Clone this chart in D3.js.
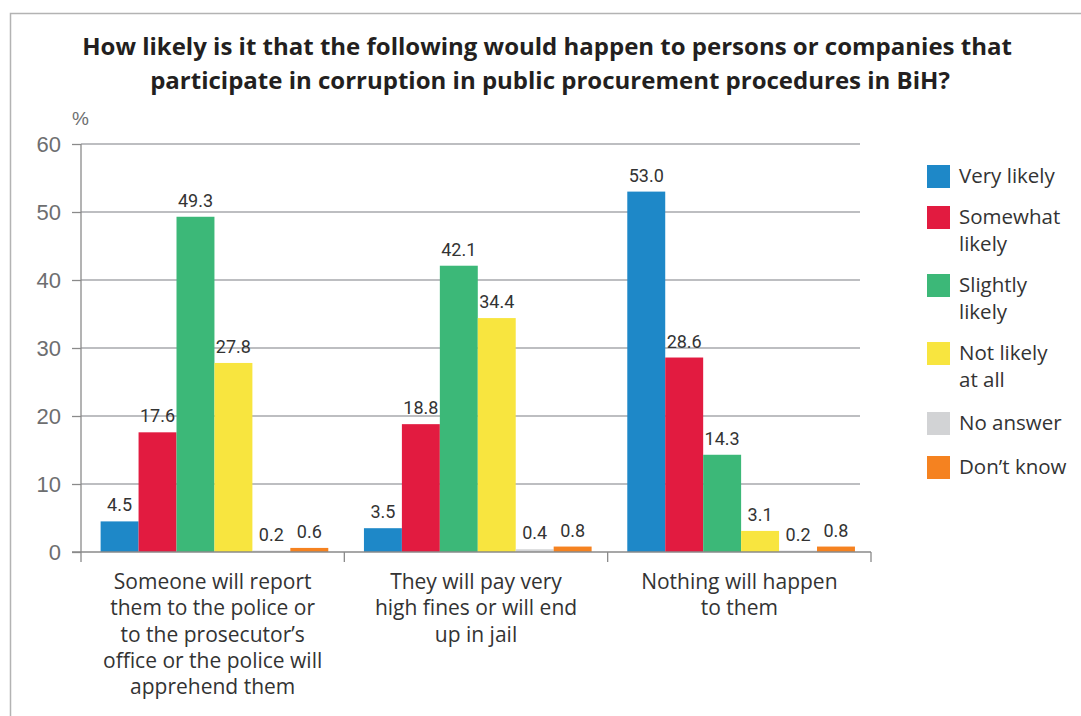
<!DOCTYPE html>
<html>
<head>
<meta charset="utf-8">
<script src="https://cdn.jsdelivr.net/npm/d3@7/dist/d3.min.js"></script>
<style>
  html, body { margin: 0; padding: 0; background: #fff; }
  svg { display: block; }
</style>
</head>
<body>
<svg id="chart" width="1081" height="716"></svg>
<script>
// Survey outcomes: perceived likelihood of consequences for corruption in procurement
const categories = [
  ["Someone will report", "them to the police or", "to the prosecutor’s", "office or the police will", "apprehend them"],
  ["They will pay very", "high fines or will end", "up in jail"],
  ["Nothing will happen", "to them"]
];
const seriesNames = ["Very likely", "Somewhat likely", "Slightly likely", "Not likely at all", "No answer", "Don’t know"];
const legendLines = [["Very likely"], ["Somewhat", "likely"], ["Slightly", "likely"], ["Not likely", "at all"], ["No answer"], ["Don’t know"]];
const seriesColors = ["#1e88c8", "#e21b40", "#3cb878", "#f8e53f", "#d2d3d5", "#f58220"];
const veryLikely      = [4.5, 3.5, 53.0];
const somewhatLikely  = [17.6, 18.8, 28.6];
const slightlyLikely  = [49.3, 42.1, 14.3];
const notLikelyAtAll  = [27.8, 34.4, 3.1];
const noAnswer        = [0.2, 0.4, 0.2];
const dontKnow        = [0.6, 0.8, 0.8];
const yTicks = [0, 10, 20, 30, 40, 50, 60];

const seriesValues = [veryLikely, somewhatLikely, slightlyLikely, notLikelyAtAll, noAnswer, dontKnow];

const svg = d3.select("#chart");
const textFont = "'Open Sans', sans-serif";
const numFont = "Roboto, sans-serif";
const tickFont = "'Liberation Sans', Arial, sans-serif";

// outer frame
svg.append("path")
  .attr("d", "M10.5,716 V13.5 H1081")
  .attr("fill", "none").attr("stroke", "#b3b3b3").attr("stroke-width", 1.5);

// title
const title = svg.append("text")
  .attr("text-anchor", "middle")
  .attr("font-family", textFont)
  .attr("font-weight", 700)
  .attr("font-size", 24)
  .attr("fill", "#231f20");
title.append("tspan").attr("x", 547).attr("y", 55).text("How likely is it that the following would happen to persons or companies that");
title.append("tspan").attr("x", 550).attr("y", 89).text("participate in corruption in public procurement procedures in BiH?");

const x0 = 81, x1 = 871, yTop = 144, yZero = 552;

const xBand = d3.scaleBand().domain(d3.range(categories.length)).range([x0, x1]).padding(0);
const xInner = d3.scaleBand().domain(d3.range(seriesNames.length))
  .range([0, xBand.bandwidth()]).paddingOuter(0.47).paddingInner(0).align(0.55);
const y = d3.scaleLinear().domain([0, 60]).range([yZero, yTop]);

// y ticks
const yAxis = d3.axisLeft(y).tickValues(yTicks).tickSize(9).tickPadding(11).tickFormat(d3.format("d"));
const gy = svg.append("g").attr("transform", `translate(${x0},0)`).call(yAxis);
gy.select(".domain").remove();
gy.selectAll(".tick line").attr("stroke", "#8a8a8a").attr("stroke-width", 1.3);
gy.selectAll(".tick text")
  .attr("font-family", tickFont).attr("font-size", 22).attr("fill", "#6d6e70").attr("dy", "0.36em");

// horizontal gridlines
svg.append("g").selectAll("line")
  .data(yTicks.filter(d => d > 0))
  .join("line")
  .attr("x1", x0).attr("x2", 860)
  .attr("y1", d => y(d)).attr("y2", d => y(d))
  .attr("stroke", "#a7a9ac").attr("stroke-width", 1.3);

svg.append("text")
  .attr("x", 72).attr("y", 125)
  .attr("font-family", tickFont).attr("font-size", 19).attr("fill", "#6d6e70")
  .text("%");

// bars
const groups = svg.append("g").selectAll("g")
  .data(categories.map((c, i) => i))
  .join("g")
  .attr("transform", i => `translate(${xBand(i)},0)`);

groups.selectAll("rect")
  .data(i => seriesValues.map((s, k) => ({ k, v: s[i] })))
  .join("rect")
  .attr("x", d => xInner(d.k))
  .attr("width", xInner.bandwidth())
  .attr("y", d => y(d.v))
  .attr("height", d => yZero - y(d.v))
  .attr("fill", d => seriesColors[d.k]);

groups.selectAll("text.val")
  .data(i => seriesValues.map((s, k) => ({ k, v: s[i] })))
  .join("text")
  .attr("class", "val")
  .attr("x", d => xInner(d.k) + xInner.bandwidth() / 2)
  .attr("y", d => y(d.v) - 10)
  .attr("text-anchor", "middle")
  .attr("font-family", numFont).attr("font-size", 18).attr("fill", "#333")
  .text(d => d.v.toFixed(1));

// y axis line, x baseline and category separators
svg.append("line")
  .attr("x1", x0).attr("x2", x0).attr("y1", yTop).attr("y2", 562)
  .attr("stroke", "#8a8a8a").attr("stroke-width", 1.3);
svg.append("line")
  .attr("x1", 72).attr("x2", x1).attr("y1", yZero).attr("y2", yZero)
  .attr("stroke", "#8a8a8a").attr("stroke-width", 1.3);
svg.append("g").selectAll("line")
  .data(d3.range(1, categories.length + 1))
  .join("line")
  .attr("x1", i => xBand(i - 1) + xBand.bandwidth()).attr("x2", i => xBand(i - 1) + xBand.bandwidth())
  .attr("y1", yZero).attr("y2", 562)
  .attr("stroke", "#8a8a8a").attr("stroke-width", 1.3);

// category labels
const catText = svg.append("g").selectAll("text")
  .data(categories)
  .join("text")
  .attr("text-anchor", "middle")
  .attr("font-family", textFont).attr("font-size", 21).attr("fill", "#333");
catText.each(function (lines, i) {
  const cx = xBand(i) + xBand.bandwidth() / 2;
  d3.select(this).selectAll("tspan")
    .data(lines)
    .join("tspan")
    .attr("x", cx)
    .attr("y", (d, j) => 589 + j * 26.3)
    .text(d => d);
});

// legend
const legendTops = [165, 206, 274, 342, 412, 456];
const lg = svg.append("g").selectAll("g")
  .data(seriesNames.map((n, k) => k))
  .join("g")
  .attr("transform", k => `translate(927,${legendTops[k]})`);
lg.append("rect").attr("width", 23).attr("height", 23).attr("fill", k => seriesColors[k]);
lg.append("text")
  .attr("font-family", textFont).attr("font-size", 20.5).attr("fill", "#333")
  .each(function (k) {
    d3.select(this).selectAll("tspan")
      .data(legendLines[k])
      .join("tspan")
      .attr("x", 32)
      .attr("y", (d, j) => 18 + j * 26.5)
      .text(d => d);
  });
</script>
</body>
</html>
